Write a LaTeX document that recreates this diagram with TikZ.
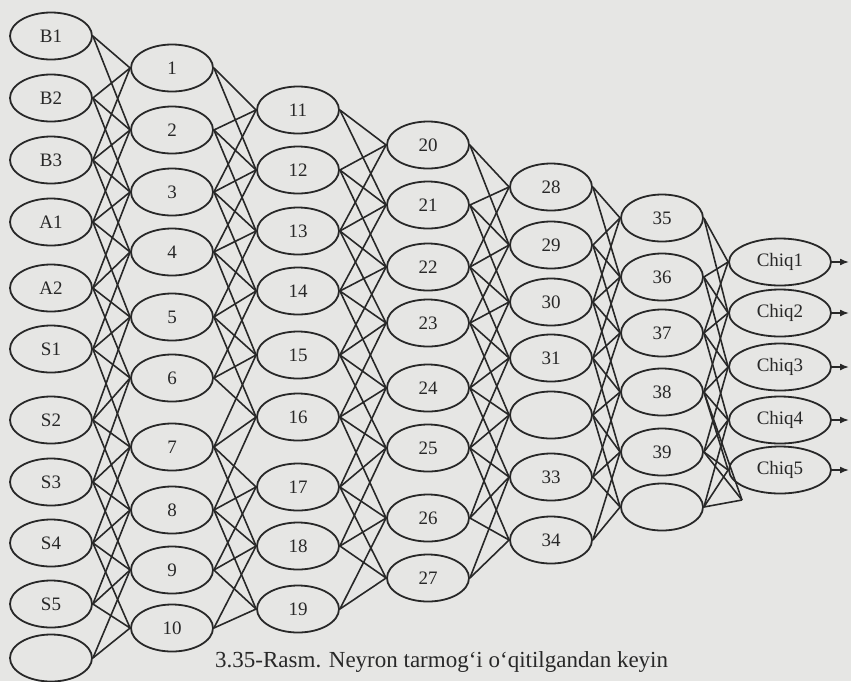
\documentclass[tikz,border=0pt]{standalone}
\usepackage{fontspec}
\setmainfont{Liberation Serif}
\usetikzlibrary{shapes.geometric,arrows.meta}
\definecolor{bg}{RGB}{230,230,228}
\definecolor{ink}{RGB}{40,40,40}
\begin{document}
\begin{tikzpicture}[x=1pt,y=-1pt,
  neuron/.style={ellipse, draw=ink, line width=1.8pt, minimum width=82pt, minimum height=47pt, inner sep=0pt, text=ink, font=\fontsize{19}{19}\selectfont},
  outn/.style={neuron, minimum width=102pt},
  link/.style={draw=ink, line width=1.6pt},
  outarrow/.style={draw=ink, line width=1.6pt, -{Latex[length=9pt,width=7pt]}}]
\fill[bg] (0,0) rectangle (851,681);
\useasboundingbox (0,0) rectangle (851,681);
% column 0
\foreach \n/\y/\l in {i1/36/B1, i2/98/B2, i3/160/B3, i4/222/A1, i5/288/A2, i6/349/S1, i7/420/S2, i8/482/S3, i9/543/S4, i10/604/S5, i11/658/{}}
  \node[neuron] (\n) at (51,\y) {\l};
% column 1
\foreach \n/\y in {1/68, 2/130, 3/192, 4/252, 5/317, 6/378, 7/447, 8/510, 9/570, 10/628}
  \node[neuron] (n\n) at (172,\y) {\n};
% column 2
\foreach \n/\y in {11/110, 12/170, 13/231, 14/291, 15/355, 16/417, 17/487, 18/546, 19/609}
  \node[neuron] (n\n) at (298,\y) {\n};
% column 3
\foreach \n/\y in {20/145, 21/205, 22/267, 23/323, 24/388, 25/448, 26/518, 27/578}
  \node[neuron] (n\n) at (428,\y) {\n};
% column 4
\foreach \n/\y/\l in {28/187/28, 29/245/29, 30/302/30, 31/358/31, 32/415/{}, 33/477/33, 34/540/34}
  \node[neuron] (n\n) at (551,\y) {\l};
% column 5
\foreach \n/\y/\l in {35/218/35, 36/277/36, 37/333/37, 38/392/38, 39/452/39, 40/507/{}}
  \node[neuron] (n\n) at (662,\y) {\l};
% outputs
\foreach \n/\y in {1/262, 2/313, 3/367, 4/420, 5/470}
  \node[outn] (o\n) at (780,\y) {Chiq\n};
\foreach \n/\y in {1/262, 2/313, 3/367, 4/420, 5/470}
  \coordinate (e\n) at (849,\y);
\coordinate (c6) at (742,500);
% links column 0 -> 1
\foreach \s/\t in {i1/n1, i1/n2, i2/n1, i2/n2, i2/n3, i3/n1, i3/n2, i3/n3, i3/n4,
  i4/n2, i4/n3, i4/n4, i4/n5, i5/n3, i5/n4, i5/n5, i5/n6, i6/n4, i6/n5, i6/n6, i6/n7,
  i7/n5, i7/n6, i7/n7, i7/n8, i8/n6, i8/n7, i8/n8, i8/n9, i9/n7, i9/n8, i9/n9, i9/n10,
  i10/n8, i10/n9, i10/n10, i11/n9, i11/n10}
  \draw[link] (\s.east) -- (\t.west);
% links column 1 -> 2
\foreach \s/\t in {1/11, 1/12, 2/11, 2/12, 2/13, 3/11, 3/12, 3/13, 3/14,
  4/12, 4/13, 4/14, 4/15, 5/13, 5/14, 5/15, 5/16, 6/14, 6/15, 6/16,
  7/15, 7/16, 7/17, 7/18, 8/16, 8/17, 8/18, 8/19, 9/17, 9/18, 9/19, 10/18, 10/19}
  \draw[link] (n\s.east) -- (n\t.west);
% links column 2 -> 3
\foreach \s/\t in {11/20, 11/21, 12/20, 12/21, 12/22, 13/20, 13/21, 13/22, 13/23,
  14/21, 14/22, 14/23, 14/24, 15/22, 15/23, 15/24, 15/25, 16/23, 16/24, 16/25, 16/26,
  17/24, 17/25, 17/26, 17/27, 18/25, 18/26, 18/27, 19/26, 19/27}
  \draw[link] (n\s.east) -- (n\t.west);
% links column 3 -> 4
\foreach \s/\t in {20/28, 20/29, 21/28, 21/29, 21/30, 22/28, 22/29, 22/30, 22/31,
  23/29, 23/30, 23/31, 23/32, 24/30, 24/31, 24/32, 24/33, 25/31, 25/32, 25/33, 25/34,
  26/32, 26/33, 26/34, 27/33, 27/34}
  \draw[link] (n\s.east) -- (n\t.west);
% links column 4 -> 5
\foreach \s/\t in {28/35, 28/36, 29/35, 29/36, 29/37, 30/35, 30/36, 30/37, 30/38,
  31/36, 31/37, 31/38, 31/39, 32/37, 32/38, 32/39, 32/40, 33/38, 33/39, 33/40, 34/39, 34/40}
  \draw[link] (n\s.east) -- (n\t.west);
% links column 5 -> outputs
\foreach \s/\t in {35/1, 35/2, 36/1, 36/2, 36/3, 37/1, 37/2, 37/3, 37/4,
  38/2, 38/3, 38/4, 38/5, 39/3, 39/4, 39/5, 40/4, 40/5}
  \draw[link] (n\s.east) -- (o\t.west);
\foreach \s in {38, 39, 40}
  \draw[link] (n\s.east) -- (c6);
% output arrows
\foreach \n in {1,...,5}
  \draw[outarrow] (o\n.east) -- (e\n);
% caption
\node[anchor=base west, inner sep=0pt, text=ink, font=\fontsize{23}{23}\selectfont] (cap) at (215,667) {3.35-Rasm. Neyron tarmog‘i o‘qitilgandan keyin};
\end{tikzpicture}
\end{document}
